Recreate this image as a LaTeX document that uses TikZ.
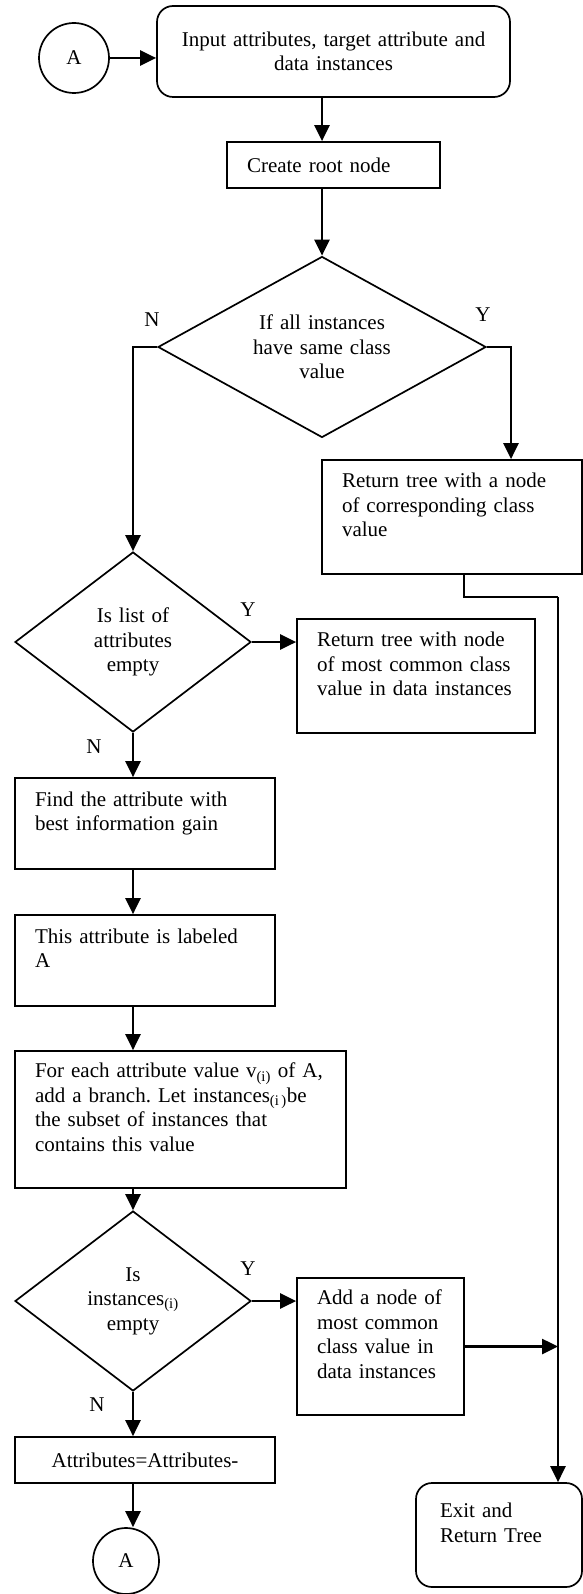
\documentclass[tikz,border=0pt]{standalone}
\usepackage{fontspec}
\setmainfont{Liberation Serif}
\usetikzlibrary{shapes.geometric,arrows.meta}

\begin{document}
\frenchspacing
\begin{tikzpicture}[x=1pt, y=-1pt,
    every node/.style={font=\fontsize{21}{24.5}\selectfont},
    procbox/.style={draw, line width=1.7pt, align=left, inner xsep=20pt, inner ysep=0pt},
    roundbox/.style={procbox, rounded corners=16pt},
    decision/.style={draw, diamond, line width=1.7pt, align=center, inner sep=0pt},
    connector/.style={draw, circle, line width=1.7pt, inner sep=0pt},
    arrow/.style={line width=2.6pt, -{Triangle[length=16pt, width=15pt]}},
    line/.style={line width=2.4pt}]
    \useasboundingbox (0,0) rectangle (583,1594);

    % Start and root
    \node[connector, minimum size=70pt] (ain) at (74,58) {A};
    \node[roundbox, align=center, text width=313pt, minimum height=91pt] (input) at (333.5,51.5) {Input attributes, target attribute and\\data instances};
    \node[procbox, text width=173pt, minimum height=46pt] (root) at (333.5,165) {Create root node};

    % Same class test
    \node[decision, aspect=1.81, text width=170pt, minimum width=328pt, minimum height=181pt] (same) at (322,347) {If all instances\\have same class\\value};
    \node (sameN) at (152,320) {N};
    \node (sameY) at (483,315) {Y};
    \node[procbox, text width=220pt, minimum height=114pt] (ret1) at (452,517) {Return tree with a node\\of corresponding class\\value\\~};

    % Empty attribute list test
    \node[decision, aspect=1.31, text width=110pt, minimum width=236pt, minimum height=180pt] (empty) at (133,642) {Is list of\\attributes\\empty};
    \node (emptyY) at (248,610) {Y};
    \node (emptyN) at (94,747) {N};
    \node[procbox, text width=198pt, minimum height=114pt] (ret2) at (416,676) {Return tree with node\\of most common class\\value in data instances\\~};

    % Split on best attribute
    \node[procbox, text width=220pt, minimum height=91pt] (find) at (145,823.5) {Find the attribute with\\best information gain\\~};
    \node[procbox, text width=220pt, minimum height=91pt] (this) at (145,960.5) {This attribute is labeled\\A\\~};
    \node[procbox, text width=291pt, minimum height=137pt] (foreach) at (180.5,1119.5) {For each attribute value v\textsubscript{(i)} of A,\\add a branch. Let instances\textsubscript{(i\,)}be\\the subset of instances that\\contains this value\\~};

    % Empty subset test
    \node[decision, aspect=1.31, text width=110pt, minimum width=236pt, minimum height=180pt] (isinst) at (133,1301) {Is\\instances\textsubscript{(i)}\\empty};
    \node (isinstY) at (248,1269) {Y};
    \node (isinstN) at (97,1405) {N};
    \node[procbox, text width=127pt, minimum height=137pt] (add) at (380.5,1346.5) {Add a node of\\most common\\class value in\\data instances\\~};
    \node[procbox, align=center, text width=220pt, minimum height=46pt] (attr) at (145,1460) {Attributes=Attributes-};
    \node[connector, minimum size=66pt] (aout) at (126,1561) {A};
    \node[roundbox, inner xsep=24pt, text width=118pt, minimum height=104pt] (exit) at (499,1535) {Exit and\\Return Tree\\~};

    % Connectors
    \draw[arrow] (ain.east) -- (ain.east -| input.west);
    \draw[arrow] (input.south -| same.north) -- (root.north -| same.north);
    \draw[arrow] (root.south -| same.north) -- (same.north);
    \draw[arrow] (same.west) -| (empty.north);
    \draw[arrow] (same.east) -| ([xshift=59pt]ret1.north);
    \coordinate (bus) at (558,597);
    \draw[line] ([xshift=12pt]ret1.south) |- (bus);
    \draw[arrow] (bus) -- (bus |- exit.north);
    \draw[arrow] (empty.east) -- (empty.east -| ret2.west);
    \draw[arrow] (empty.south) -- (empty.south |- find.north);
    \draw[arrow] (find.south -| empty.south) -- (this.north -| empty.south);
    \draw[arrow] (this.south -| empty.south) -- (foreach.north -| empty.south);
    \draw[arrow] (foreach.south -| isinst.north) -- (isinst.north);
    \draw[arrow] (isinst.east) -- (isinst.east -| add.west);
    \draw[arrow] (add.east) -- (add.east -| bus);
    \draw[arrow] (isinst.south) -- (isinst.south |- attr.north);
    \draw[arrow] (attr.south -| isinst.south) -- (isinst.south |- aout.north);
\end{tikzpicture}
\end{document}
